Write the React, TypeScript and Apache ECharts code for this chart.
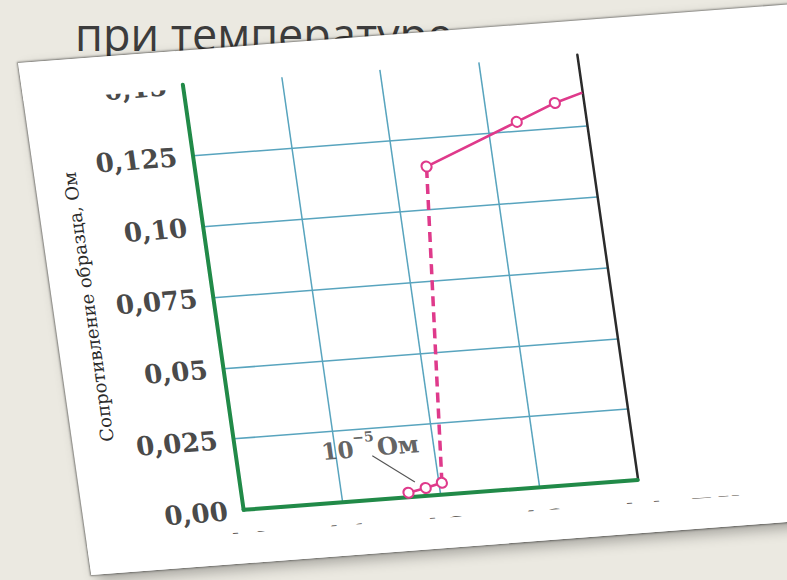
import React, { useEffect, useRef } from "react";
import * as echarts from "echarts";

// ---- data ----
const yTickLabels = ["0,00", "0,025", "0,05", "0,075", "0,10", "0,125", "0,15"];
const xTickLabels = ["4,0", "4,1", "4,2", "4,3", "4,4"];
const lowT = [4.168, 4.186, 4.203];
const lowR = [0.0016, 0.0028, 0.0042];
const upT = [4.233, 4.33, 4.371, 4.4];
const upR = [0.115, 0.1282, 0.1338, 0.1367];
const upMarker = [true, true, true, false];
const noteT = [4.136];
const noteR = [0.0195];
const noteLineT = [4.137, 4.176];
const noteLineR = [0.0155, 0.0052];
const yName = "Сопротивление образца, Ом";
const xName = "T,K";
const slideLine1 = "при температуре";
const slideNum = "4,";
const slideLine2 = "ул";

const GREEN = "#218a48";
const GRID = "#58a4be";
const PINK = "#df3a8b";
const SERIF = "DejaVu Serif";

export default function App() {
  const bgRef = useRef<HTMLDivElement>(null);
  const chartRef = useRef<HTMLDivElement>(null);

  useEffect(() => {
    const bg = echarts.init(bgRef.current!, null, { renderer: "svg" });
    const slideFont = {
      fontFamily: "Open Sans", fontSize: 45, lineHeight: 40, fill: "#3c3c3c", verticalAlign: "middle" as const,
    };
    bg.setOption({
      animation: false,
      graphic: [
        { type: "text", x: 75, y: 33, style: { text: slideLine1, ...slideFont } },
        { type: "text", x: 733, y: 33, style: { text: slideNum, ...slideFont } },
        { type: "text", x: 728, y: 88, style: { text: slideLine2, ...slideFont } },
      ],
    });

    const chart = echarts.init(chartRef.current!, null, { renderer: "svg" });
    const labelFont = { fontFamily: SERIF, fontWeight: "bold" as const, fontSize: 26, color: "#4a4a4a" };
    chart.setOption({
      animation: false,
      grid: { left: 160, top: 34, width: 394, height: 425 },
      xAxis: {
        type: "value", min: 4.0, max: 4.4, interval: 0.1,
        axisLine: { show: true, onZero: false, lineStyle: { color: GREEN, width: 4 } },
        axisTick: { show: false },
        axisLabel: {
          margin: 19, ...labelFont,
          formatter: (v: number) => xTickLabels[Math.round((v - 4) / 0.1)] ?? "",
        },
        splitLine: { show: true, showMinLine: false, showMaxLine: false, lineStyle: { color: GRID, width: 1.5 } },
        name: xName, nameLocation: "end", nameGap: 51,
        nameTextStyle: { ...labelFont, verticalAlign: "top", padding: [19, 0, 0, 0] },
      },
      yAxis: [
        {
          type: "value", min: 0, max: 0.15, interval: 0.025, position: "left",
          axisLine: { show: true, lineStyle: { color: GREEN, width: 4 } },
          axisTick: { show: false },
          axisLabel: {
            margin: 16, ...labelFont,
            formatter: (v: number) => yTickLabels[Math.round(v / 0.025)] ?? "",
          },
          splitLine: { show: true, showMinLine: false, showMaxLine: false, lineStyle: { color: GRID, width: 1.5 } },
          name: yName, nameLocation: "middle", nameRotate: 90, nameGap: 116,
          nameTextStyle: { fontFamily: SERIF, fontSize: 18, color: "#2a2a2a" },
        },
        {
          type: "value", min: 0, max: 0.15, interval: 0.025, position: "right",
          axisLine: { show: true, lineStyle: { color: "#2b2b2b", width: 2.5 } },
          axisTick: { show: false }, axisLabel: { show: false }, splitLine: { show: false },
        },
      ],
      series: [
        {
          type: "line", name: "note-line",
          data: noteLineT.map((t, i) => [t, noteLineR[i]]),
          symbol: "none", lineStyle: { color: "#555", width: 1.2 }, z: 3,
        },
        {
          type: "line", name: "jump",
          data: [[lowT[lowT.length - 1], lowR[lowR.length - 1]], [upT[0], upR[0]]],
          symbol: "none", lineStyle: { color: PINK, width: 3.5, type: [10, 6] }, z: 4,
        },
        {
          type: "line", name: "low",
          data: lowT.map((t, i) => [t, lowR[i]]),
          symbol: "emptyCircle", symbolSize: 10,
          lineStyle: { color: PINK, width: 2.5 },
          itemStyle: { color: PINK, borderWidth: 2.5 }, z: 5,
        },
        {
          type: "line", name: "up",
          data: upT.map((t, i) => ({ value: [t, upR[i]], symbolSize: upMarker[i] ? 10 : 0 })),
          symbol: "emptyCircle",
          lineStyle: { color: PINK, width: 2.5 },
          itemStyle: { color: PINK, borderWidth: 2.5 }, z: 5,
        },
        {
          type: "scatter", name: "note",
          data: noteT.map((t, i) => [t, noteR[i]]),
          symbolSize: 1, itemStyle: { color: "rgba(0,0,0,0)" }, z: 6,
          label: {
            show: true, position: "inside",
            formatter: "{a|10}{b|−5}{c|Ом}",
            rich: {
              a: { fontFamily: SERIF, fontSize: 23, fontWeight: "bold", color: "#3a3a3a", lineHeight: 30, verticalAlign: "bottom" },
              b: { fontFamily: SERIF, fontSize: 14, fontWeight: "bold", color: "#3a3a3a", lineHeight: 30, verticalAlign: "top", padding: [0, 2, 0, 0] },
              c: { fontFamily: SERIF, fontSize: 24, fontWeight: "bold", color: "#3a3a3a", lineHeight: 30, verticalAlign: "bottom" },
            },
          },
        },
      ],
      graphic: [
        { type: "rect", z: 100, shape: { x: 0, y: 482, width: 800, height: 60 }, style: { fill: "#fff" } },
        { type: "rect", z: 100, shape: { x: 0, y: 0, width: 157, height: 38 }, style: { fill: "#fff" } },
      ],
    });

    return () => {
      chart.dispose();
      bg.dispose();
    };
  }, []);

  return (
    <div style={{ position: "fixed", left: 0, top: 0, width: 787, height: 580, overflow: "hidden", background: "#ebe9e1" }}>
      <div ref={bgRef} style={{ position: "absolute", left: 0, top: 0, width: 787, height: 580 }} />
      <div
        style={{
          position: "absolute", left: 0, top: 0, width: 790, height: 512,
          background: "#fff",
          transformOrigin: "0 0",
          transform: "matrix(1, -0.076, 0.143, 1, 18, 63)",
          boxShadow: "0 0 2px 1px rgba(0,0,0,0.45), 6px 6px 14px rgba(0,0,0,0.3)",
        }}
      >
        <div ref={chartRef} style={{ width: 790, height: 512 }} />
      </div>
    </div>
  );
}
